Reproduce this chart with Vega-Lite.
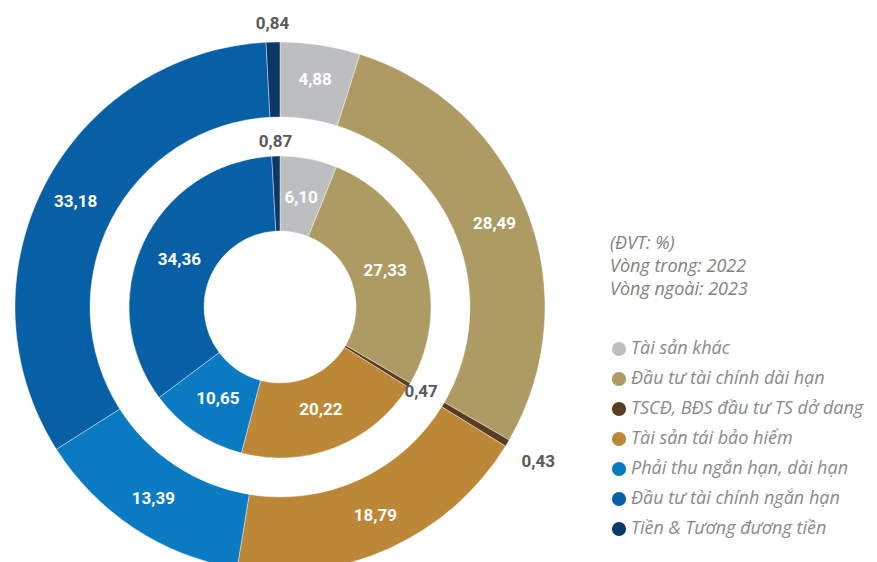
{
  "$schema": "https://vega.github.io/schema/vega-lite/v6.json",
  "width": 560,
  "height": 614,
  "autosize": "none",
  "padding": {"left": 0, "top": 0, "right": 317, "bottom": 0},
  "background": "white",
  "config": {
    "view": {"stroke": null},
    "locale": {"number": {"decimal": ",", "thousands": ".", "grouping": [3], "currency": ["", ""]}}
  },
  "data": {
    "values": [
      {"ring": "2022", "idx": 1, "category": "Tài sản khác", "value": 6.10},
      {"ring": "2022", "idx": 2, "category": "Đầu tư tài chính dài hạn", "value": 27.33},
      {"ring": "2022", "idx": 3, "category": "TSCĐ, BĐS đầu tư TS dở dang", "value": 0.47},
      {"ring": "2022", "idx": 4, "category": "Tài sản tái bảo hiểm", "value": 20.22},
      {"ring": "2022", "idx": 5, "category": "Phải thu ngắn hạn, dài hạn", "value": 10.65},
      {"ring": "2022", "idx": 6, "category": "Đầu tư tài chính ngắn hạn", "value": 34.36},
      {"ring": "2022", "idx": 7, "category": "Tiền & Tương đương tiền", "value": 0.87},
      {"ring": "2023", "idx": 1, "category": "Tài sản khác", "value": 4.88},
      {"ring": "2023", "idx": 2, "category": "Đầu tư tài chính dài hạn", "value": 28.49},
      {"ring": "2023", "idx": 3, "category": "TSCĐ, BĐS đầu tư TS dở dang", "value": 0.43},
      {"ring": "2023", "idx": 4, "category": "Tài sản tái bảo hiểm", "value": 18.79},
      {"ring": "2023", "idx": 5, "category": "Phải thu ngắn hạn, dài hạn", "value": 13.39},
      {"ring": "2023", "idx": 6, "category": "Đầu tư tài chính ngắn hạn", "value": 33.18},
      {"ring": "2023", "idx": 7, "category": "Tiền & Tương đương tiền", "value": 0.84}
    ]
  },
  "encoding": {
    "theta": {"field": "value", "type": "quantitative", "stack": true},
    "order": {"field": "idx", "type": "quantitative", "sort": "ascending"}
  },
  "layer": [
    {
      "transform": [{"filter": "datum.ring == '2022'"}],
      "layer": [
        {
          "mark": {"type": "arc", "radius": 151, "radius2": 76, "stroke": "white", "strokeWidth": 0.4},
          "encoding": {
            "color": {
              "field": "category",
              "type": "nominal",
              "scale": {
                "domain": ["Tài sản khác", "Đầu tư tài chính dài hạn", "TSCĐ, BĐS đầu tư TS dở dang", "Tài sản tái bảo hiểm", "Phải thu ngắn hạn, dài hạn", "Đầu tư tài chính ngắn hạn", "Tiền & Tương đương tiền"],
                "range": ["#BDBEC0", "#AE9A63", "#5A3C20", "#BC8837", "#0A7BC2", "#075FA6", "#0B3867"]
              },
              "legend": {
                "orient": "none",
                "legendX": 610,
                "legendY": 235,
                "padding": 0,
                "title": ["(ĐVT: %)", "Vòng trong: 2022", "Vòng ngoài: 2023"],
                "titleFont": "Open Sans",
                "titleFontStyle": "italic",
                "titleFontWeight": "normal",
                "titleFontSize": 18,
                "titleLineHeight": 23,
                "titleColor": "#85807a",
                "titlePadding": 41,
                "labelFont": "Open Sans",
                "labelFontStyle": "italic",
                "labelFontSize": 18,
                "labelColor": "#8a8a8a",
                "labelOffset": 3,
                "labelLimit": 400,
                "symbolType": "circle",
                "symbolSize": 200,
                "symbolStrokeWidth": 0,
                "rowPadding": 12
              }
            }
          }
        },
        {
          "mark": {"type": "text", "radius": 111, "font": "Roboto", "fontWeight": "bold", "fontSize": 17, "color": "white"},
          "encoding": {
            "text": {"condition": {"test": "datum.value >= 1", "field": "value", "type": "quantitative", "format": ".2f"}, "value": ""}
          }
        },
        {
          "mark": {"type": "text", "radius": 165, "font": "Roboto", "fontWeight": "bold", "fontSize": 17, "color": "#58595b"},
          "encoding": {
            "text": {"condition": {"test": "datum.value < 1", "field": "value", "type": "quantitative", "format": ".2f"}, "value": ""}
          }
        }
      ]
    },
    {
      "transform": [{"filter": "datum.ring == '2023'"}],
      "layer": [
        {
          "mark": {"type": "arc", "radius": 265, "radius2": 190, "stroke": "white", "strokeWidth": 0.4},
          "encoding": {
            "color": {"field": "category", "type": "nominal"}
          }
        },
        {
          "mark": {"type": "text", "radius": 230, "font": "Roboto", "fontWeight": "bold", "fontSize": 17, "color": "white"},
          "encoding": {
            "text": {"condition": {"test": "datum.value >= 1", "field": "value", "type": "quantitative", "format": ".2f"}, "value": ""}
          }
        },
        {
          "mark": {"type": "text", "radius": 283, "font": "Roboto", "fontWeight": "bold", "fontSize": 17, "color": "#58595b"},
          "encoding": {
            "text": {"condition": {"test": "datum.idx == 7", "field": "value", "type": "quantitative", "format": ".2f"}, "value": ""}
          }
        },
        {
          "mark": {"type": "text", "radius": 301, "font": "Roboto", "fontWeight": "bold", "fontSize": 17, "color": "#58595b"},
          "encoding": {
            "text": {"condition": {"test": "datum.idx == 3", "field": "value", "type": "quantitative", "format": ".2f"}, "value": ""}
          }
        }
      ]
    }
  ]
}
